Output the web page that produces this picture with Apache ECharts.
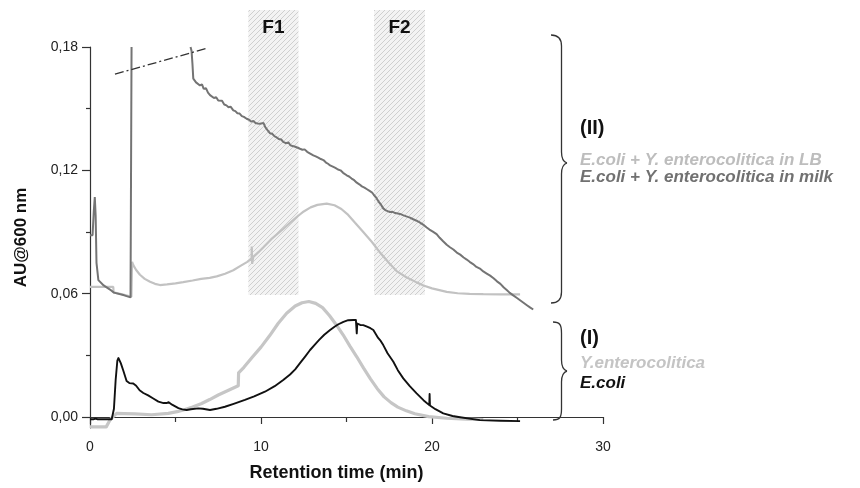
<!DOCTYPE html>
<html>
<head>
<meta charset="utf-8">
<script src="https://cdn.jsdelivr.net/npm/echarts@6/dist/echarts.min.js"></script>
<style>html,body{margin:0;padding:0;background:#fff}#c{width:860px;height:488px}</style>
</head>
<body>
<div id="c"></div>
<script>
// ---- data (x = retention time, min ; y = AU@600 nm) ----
const xTicks = [0, 10, 20, 30];
const yTickLabels = [0, 0.06, 0.12, 0.18];
const yMinorTicks = [0.03, 0.09, 0.15];
const bandNames = ['F1', 'F2'];
const bandRanges = [[9.26, 12.19], [16.61, 19.59]];
const bandBottom = 0.0593;

const ecoli = [[0,-0.0011],[0.2,-0.0011],[0.25,-0.0004],[0.32,-0.0008],[0.45,-0.0011],[1.27,-0.0011],[1.4,0.004],[1.5,0.018],[1.6,0.0275],[1.66,0.0287],[1.72,0.0280],[1.8,0.0262],[1.95,0.0225],[2.14,0.0175],[2.3,0.0165],[2.53,0.0163],[2.7,0.0152],[2.9,0.0130],[3.12,0.0117],[3.4,0.0105],[3.7,0.0090],[4.0,0.0075],[4.3,0.0068],[4.48,0.0068],[4.6,0.0072],[4.8,0.0060],[5.17,0.0043],[5.4,0.0037],[5.65,0.0034],[5.9,0.0038],[6.33,0.0042],[6.6,0.0040],[7.02,0.0034],[7.4,0.0040],[7.89,0.0050],[8.4,0.0064],[9.06,0.0083],[9.6,0.0100],[10.23,0.0123],[10.8,0.0150],[11.3,0.0180],[11.7,0.0207],[12.0,0.0232],[12.28,0.0262],[12.58,0.0294],[12.87,0.0326],[13.15,0.0352],[13.4,0.0375],[13.7,0.0400],[14.04,0.0423],[14.3,0.0439],[14.5,0.0450],[14.82,0.0463],[15.1,0.0471],[15.4,0.0472],[15.55,0.0472],[15.57,0.0480],[15.6,0.0407],[15.63,0.0455],[15.8,0.0448],[15.98,0.0447],[16.2,0.0440],[16.4,0.0432],[16.57,0.0423],[16.85,0.0385],[17.0,0.0370],[17.15,0.0350],[17.4,0.0310],[17.74,0.0269],[18.0,0.0228],[18.32,0.0188],[18.7,0.0150],[19.1,0.0115],[19.5,0.0082],[19.84,0.0058],[19.86,0.0112],[19.88,0.0056],[20.2,0.0038],[20.66,0.0018],[21.2,0.0005],[21.64,-0.0001],[22.8,-0.0015],[24,-0.0018],[25.15,-0.0020]];

const yent = [[0,-0.0048],[0.95,-0.0048],[1.2,-0.001],[1.56,0.0018],[2.0,0.0017],[2.63,0.0015],[3.6,0.0011],[4.58,0.0018],[5.1,0.0026],[5.56,0.0037],[6.0,0.0049],[6.53,0.0066],[7.0,0.0085],[7.5,0.0107],[8.1,0.0130],[8.67,0.0152],[8.69,0.0215],[9.0,0.0242],[9.5,0.0292],[10.0,0.0340],[10.5,0.0395],[11.0,0.0455],[11.5,0.0505],[12.0,0.0540],[12.4,0.0556],[12.8,0.0562],[13.2,0.0553],[13.6,0.0532],[14.0,0.0494],[14.4,0.0449],[14.8,0.0400],[15.2,0.0345],[15.6,0.0293],[16.0,0.0238],[16.4,0.0186],[16.8,0.0138],[17.2,0.0098],[17.6,0.0070],[18.0,0.0048],[18.5,0.0030],[19.0,0.0016],[19.8,0.0002],[20.86,-0.0006],[22.0,-0.0010],[23.0,-0.0012]];

const lb = [[0,0.0633],[1.36,0.0633],[1.38,0.0606],[2.0,0.0595],[2.42,0.0585],[2.46,0.0755],[2.53,0.0739],[2.7,0.0715],[2.92,0.0692],[3.2,0.0672],[3.51,0.0658],[3.8,0.0648],[4.09,0.0642],[4.5,0.0645],[5.0,0.0650],[5.45,0.0656],[6.0,0.0664],[6.5,0.0672],[7.0,0.0677],[7.41,0.0684],[7.9,0.0697],[8.38,0.0714],[8.8,0.0735],[9.2,0.0755],[9.45,0.0772],[9.46,0.0830],[9.48,0.0745],[9.55,0.0779],[9.85,0.0802],[10.14,0.0826],[10.6,0.0865],[10.92,0.0888],[11.3,0.0915],[11.7,0.0945],[12.09,0.0973],[12.5,0.1000],[12.9,0.1020],[13.3,0.1032],[13.84,0.1038],[14.3,0.1030],[14.7,0.1012],[15.1,0.0983],[15.5,0.0945],[15.98,0.0900],[16.5,0.0850],[16.96,0.0800],[17.5,0.0748],[17.93,0.0710],[18.5,0.0680],[19.1,0.0655],[19.5,0.0640],[20.0,0.0626],[20.86,0.0609],[21.5,0.0602],[22.2,0.0599],[23.0,0.0598],[24.0,0.0597],[25.15,0.0597]];

const milk = [[0,0.0884],[0.15,0.0884],[0.22,0.1],[0.28,0.107],[0.33,0.098],[0.38,0.075],[0.49,0.0666],[0.8,0.0640],[1.17,0.0620],[1.4,0.0605],[2.0,0.0592],[2.37,0.0582],[2.43,0.18],null,
[5.88,0.180],[5.94,0.178],[5.99,0.172],[6.04,0.1646],[6.12,0.1650],[6.2,0.1628],[6.3,0.1632],[6.43,0.1613],[6.55,0.1618],[6.65,0.1596],[6.78,0.1600],[6.9,0.1578],[7.02,0.1566],[7.12,0.1571],[7.25,0.1552],[7.38,0.1556],[7.5,0.1540],[7.6,0.1534],[7.72,0.1538],[7.85,0.1520],[7.98,0.1516],[8.1,0.1507],[8.22,0.1510],[8.38,0.1492],[8.5,0.1488],[8.62,0.1478],[8.75,0.1476],[8.88,0.1464],[9.0,0.1460],[9.16,0.1451],[9.3,0.1446],[9.42,0.1437],[9.55,0.1440],[9.68,0.1430],[9.8,0.1428],[9.94,0.1427],[10.05,0.1436],[10.15,0.1430],[10.25,0.1410],[10.38,0.1396],[10.53,0.1380],[10.65,0.1378],[10.8,0.1365],[10.92,0.1360],[11.05,0.1352],[11.18,0.1350],[11.3,0.1338],[11.45,0.1332],[11.6,0.1336],[11.72,0.1322],[11.85,0.1318],[12.0,0.1315],[12.15,0.1310],[12.28,0.1305],[12.42,0.1300],[12.55,0.1302],[12.7,0.1290],[12.85,0.1283],[13.06,0.1273],[13.2,0.1268],[13.35,0.1262],[13.5,0.1255],[13.65,0.1250],[13.8,0.1238],[13.92,0.1232],[14.04,0.1224],[14.2,0.1218],[14.35,0.1212],[14.5,0.1204],[14.65,0.1200],[14.8,0.1188],[15.01,0.1176],[15.15,0.1170],[15.3,0.1160],[15.45,0.1152],[15.6,0.1140],[15.75,0.1132],[15.9,0.1122],[16.05,0.1116],[16.2,0.1108],[16.35,0.1100],[16.5,0.1092],[16.6,0.1080],[16.75,0.1066],[16.9,0.1045],[17.0,0.1035],[17.15,0.1015],[17.3,0.1005],[17.54,0.0997],[17.7,0.0998],[17.85,0.0992],[18.0,0.0990],[18.13,0.0988],[18.3,0.0982],[18.5,0.0976],[18.71,0.0970],[18.9,0.0962],[19.1,0.0955],[19.3,0.0946],[19.5,0.0935],[19.69,0.0922],[19.85,0.0912],[20.05,0.0902],[20.27,0.0890],[20.45,0.0872],[20.65,0.0855],[20.86,0.0838],[21.05,0.0826],[21.25,0.0815],[21.45,0.0800],[21.65,0.0790],[21.85,0.0776],[22.03,0.0766],[22.2,0.0755],[22.4,0.0744],[22.6,0.0730],[22.8,0.0722],[23.0,0.0708],[23.2,0.0698],[23.4,0.0688],[23.6,0.0675],[23.8,0.0660],[24.0,0.0648],[24.2,0.0630],[24.37,0.0618],[24.55,0.0604],[24.75,0.0592],[24.95,0.0580],[25.15,0.0568],[25.35,0.0556],[25.55,0.0544],[25.75,0.0532],[25.92,0.0523]];

const guide = [[1.46,0.1668],[6.9,0.1795]];

// ---- chart ----
const FONT = '"Liberation Sans", Arial, sans-serif';
const yMin = -0.00534, yMax = 0.18, bandTop = 0.1977;

const cv = document.createElement('canvas');
cv.width = 5; cv.height = 5;
const g = cv.getContext('2d');
g.fillStyle = '#f3f3f3'; g.fillRect(0, 0, 5, 5);
g.strokeStyle = '#cfcfcf'; g.lineWidth = 1;
g.beginPath();
g.moveTo(0, 5); g.lineTo(5, 0);
g.moveTo(-1, 1); g.lineTo(1, -1);
g.moveTo(4, 6); g.lineTo(6, 4);
g.stroke();

const chart = echarts.init(document.getElementById('c'), null, {renderer: 'canvas'});
const fmtY = v => Number(v).toFixed(2).replace('.', ',');

const braceStyle = {stroke: '#333', fill: null, lineWidth: 1.3};
function brace(x0, xv, xp, top, mid, bot) {
  return [
    {type: 'bezierCurve', shape: {x1: x0, y1: top, cpx1: x0 + 7, cpy1: top, cpx2: xv, cpy2: top + 3, x2: xv, y2: top + 11}, style: braceStyle},
    {type: 'line', shape: {x1: xv, y1: top + 11, x2: xv, y2: mid - 11}, style: braceStyle},
    {type: 'bezierCurve', shape: {x1: xv, y1: mid - 11, cpx1: xv, cpy1: mid - 4, cpx2: xv + 2, cpy2: mid - 1, x2: xp, y2: mid}, style: braceStyle},
    {type: 'bezierCurve', shape: {x1: xp, y1: mid, cpx1: xv + 2, cpy1: mid + 1, cpx2: xv, cpy2: mid + 4, x2: xv, y2: mid + 11}, style: braceStyle},
    {type: 'line', shape: {x1: xv, y1: mid + 11, x2: xv, y2: bot - 11}, style: braceStyle},
    {type: 'bezierCurve', shape: {x1: xv, y1: bot - 11, cpx1: xv, cpy1: bot - 3, cpx2: x0 + 7, cpy2: bot, x2: x0, y2: bot}, style: braceStyle}
  ];
}

const option = {
  animation: false,
  backgroundColor: '#ffffff',
  grid: [
    {left: 90, right: 257, top: 47, bottom: 60},
    {left: 90, right: 257, top: 10, bottom: 60}
  ],
  xAxis: [
    {
      type: 'value', gridIndex: 0, min: 0, max: 30, interval: 10,
      axisLine: {show: true, lineStyle: {color: '#333', width: 1.2}},
      axisTick: {show: true, length: 7, lineStyle: {color: '#333', width: 1.2}},
      minorTick: {show: true, splitNumber: 2, length: 5, lineStyle: {color: '#333', width: 1.2}},
      splitLine: {show: false},
      axisLabel: {fontSize: 14, color: '#222', fontFamily: FONT, margin: 12, formatter: v => String(v)},
      name: 'Retention time (min)', nameLocation: 'middle', nameGap: 36,
      nameTextStyle: {fontSize: 18, fontWeight: 'bold', color: '#111', fontFamily: FONT, padding: [0, 20, 0, 0]}
    },
    {type: 'value', gridIndex: 1, min: 0, max: 30, show: false}
  ],
  yAxis: [
    {
      type: 'value', gridIndex: 0, min: yMin, max: yMax,
      axisLine: {show: true, lineStyle: {color: '#333', width: 1.2}},
      axisTick: {show: true, length: 8, customValues: yTickLabels, lineStyle: {color: '#333', width: 1.2}},
      splitLine: {show: false},
      axisLabel: {customValues: yTickLabels, fontSize: 14, color: '#222', fontFamily: FONT, margin: 12, formatter: fmtY},
      name: 'AU@600 nm', nameLocation: 'middle', nameGap: 60, nameRotate: 90,
      nameTextStyle: {fontSize: 17, fontWeight: 'bold', color: '#111', fontFamily: FONT}
    },
    {
      type: 'value', gridIndex: 0, min: yMin, max: yMax, position: 'left',
      axisLine: {show: false},
      axisTick: {show: true, length: 4, customValues: yMinorTicks, lineStyle: {color: '#333', width: 1.2}},
      axisLabel: {show: false}, splitLine: {show: false}
    },
    {type: 'value', gridIndex: 1, min: yMin, max: bandTop, show: false}
  ],
  series: [
    {
      type: 'line', xAxisIndex: 1, yAxisIndex: 2, data: [], z: 1, silent: true,
      markArea: {
        silent: true,
        itemStyle: {color: {image: cv, repeat: 'repeat'}},
        label: {show: true, position: 'insideTop', distance: 8, fontSize: 19, fontWeight: 'bold', color: '#111', fontFamily: FONT},
        data: bandNames.map((n, i) => [
          {name: n, coord: [bandRanges[i][0], bandBottom]},
          {coord: [bandRanges[i][1], bandTop]}
        ])
      }
    },
    {name: 'E.coli + Y. enterocolitica in LB', type: 'line', data: lb, showSymbol: false, symbol: 'none', z: 3,
      lineStyle: {color: '#c2c2c2', width: 2.2}, connectNulls: false},
    {name: 'E.coli + Y. enterocolitica in milk', type: 'line', data: milk, showSymbol: false, symbol: 'none', z: 4,
      lineStyle: {color: '#747474', width: 2}, connectNulls: false},
    {name: 'Y.enterocolitica', type: 'line', data: yent, showSymbol: false, symbol: 'none', z: 3,
      lineStyle: {color: '#c6c6c6', width: 3.2, join: 'round'}},
    {name: 'E.coli', type: 'line', data: ecoli, showSymbol: false, symbol: 'none', z: 5,
      lineStyle: {color: '#111111', width: 1.9, join: 'round'}},
    {type: 'line', data: guide, showSymbol: false, symbol: 'none', z: 5,
      lineStyle: {color: '#333', width: 1.3, type: [9, 3, 2, 3]}}
  ],
  graphic: [].concat(
    brace(551, 561.5, 567, 35, 163, 303),
    brace(553, 561.5, 567, 322, 371, 420),
    [
      {type: 'text', x: 580, y: 128, style: {text: '(II)', font: 'bold 20px ' + FONT, fill: '#111', verticalAlign: 'middle'}},
      {type: 'text', x: 580, y: 160, style: {text: 'E.coli + Y. enterocolitica in LB', font: 'italic bold 17px ' + FONT, fill: '#bdbdbd', verticalAlign: 'middle'}},
      {type: 'text', x: 580, y: 177, style: {text: 'E.coli + Y. enterocolitica in milk', font: 'italic bold 17px ' + FONT, fill: '#717171', verticalAlign: 'middle'}},
      {type: 'text', x: 580, y: 338, style: {text: '(I)', font: 'bold 20px ' + FONT, fill: '#111', verticalAlign: 'middle'}},
      {type: 'text', x: 580, y: 363, style: {text: 'Y.enterocolitica', font: 'italic bold 17px ' + FONT, fill: '#c4c4c4', verticalAlign: 'middle'}},
      {type: 'text', x: 580, y: 383, style: {text: 'E.coli', font: 'italic bold 17px ' + FONT, fill: '#111', verticalAlign: 'middle'}}
    ]
  )
};
chart.setOption(option);
</script>
</body>
</html>
